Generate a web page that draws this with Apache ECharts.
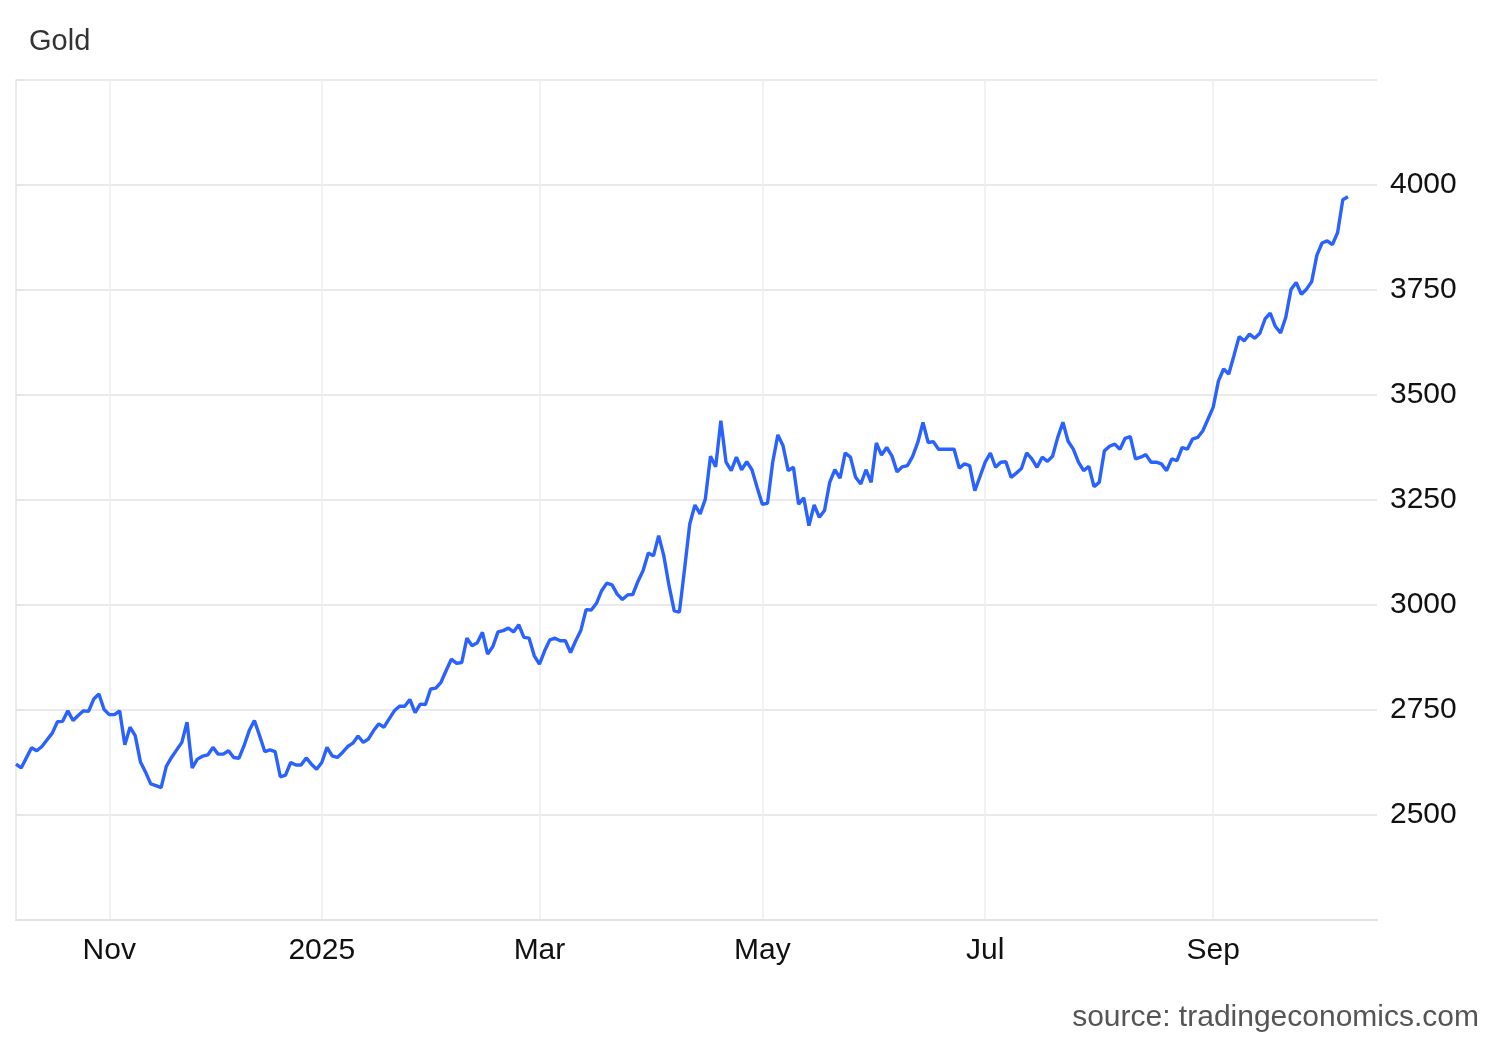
<!DOCTYPE html>
<html>
<head>
<meta charset="utf-8">
<script src="https://cdn.jsdelivr.net/npm/echarts@6/dist/echarts.min.js"></script>
<style>
html,body{margin:0;padding:0;background:#ffffff;}
#chart{width:1500px;height:1040px;}
</style>
</head>
<body>
<div id="chart"></div>
<script>
// ---- Data: Gold daily close ----
const oct2024 = [2621,2612,2636,2660,2653,2663,2679,2695,2722,2723,2748,2725,2737,2748,2747,2776,2788,2751];
const nov2024 = [2739,2739,2748,2667,2709,2689,2627,2602,2574,2570,2565,2616,2637,2655,2673,2721,2612,2633,2640,2643];
const dec2024 = [2661,2645,2645,2653,2637,2635,2665,2701,2725,2689,2651,2655,2651,2591,2595,2625,2619,2619,2636,2621,2609];
const jan2025 = [2625,2661,2641,2637,2649,2663,2671,2688,2673,2681,2701,2717,2709,2729,2748,2759,2759,2775,2744,2764,2763,2800];
const feb2025 = [2802,2816,2844,2871,2861,2863,2921,2903,2910,2935,2883,2901,2936,2939,2945,2936,2953,2923,2921,2879];
const mar2025 = [2859,2891,2917,2921,2915,2915,2887,2915,2940,2989,2988,3004,3034,3052,3048,3026,3013,3024,3025,3056,3082];
const apr2025 = [3124,3117,3165,3117,3046,2986,2983,3086,3193,3238,3217,3252,3354,3329,3439,3340,3320,3352,3322,3341,3322,3280];
const may2025 = [3240,3242,3340,3405,3379,3320,3328,3240,3255,3189,3238,3209,3225,3292,3322,3302,3362,3352,3304,3288,3322,3292];
const jun2025 = [3386,3357,3375,3355,3317,3329,3332,3354,3387,3435,3387,3389,3371,3371,3371,3371,3326,3336,3332,3272,3306];
const jul2025 = [3340,3362,3328,3340,3341,3304,3314,3325,3362,3348,3328,3352,3342,3354,3399,3435,3390,3371,3340,3320,3330,3282,3292];
const aug2025 = [3367,3378,3383,3371,3397,3401,3348,3352,3358,3340,3340,3336,3320,3348,3344,3375,3371,3395,3399,3415,3443];
const sep2025 = [3471,3533,3562,3550,3594,3639,3629,3645,3635,3647,3681,3695,3663,3648,3685,3751,3768,3740,3752,3770,3833,3862];
const oct2025 = [3867,3858,3887,3965,3972];

// trading calendar (weekdays without these dates)
const holidays = ['2024-11-28','2024-12-25','2025-01-01'];
const monthBlocks = [
  [2024,10,8,31,oct2024],[2024,11,1,30,nov2024],[2024,12,1,31,dec2024],
  [2025,1,1,31,jan2025],[2025,2,1,28,feb2025],[2025,3,1,31,mar2025],
  [2025,4,1,30,apr2025],[2025,5,1,31,may2025],[2025,6,1,30,jun2025],
  [2025,7,1,31,jul2025],[2025,8,1,31,aug2025],[2025,9,1,30,sep2025],
  [2025,10,1,7,oct2025]
];
const monthNames = ['Jan','Feb','Mar','Apr','May','Jun','Jul','Aug','Sep','Oct','Nov','Dec'];
const yTicks = [2500,2750,3000,3250,3500,3750,4000];

const dates = [];
const values = [];
monthBlocks.forEach(([y,m,from,to,vals]) => {
  const days = [];
  for (let d = from; d <= to; d++) {
    const dt = new Date(Date.UTC(y, m - 1, d));
    const wd = dt.getUTCDay();
    const iso = dt.toISOString().slice(0,10);
    if (wd === 0 || wd === 6 || holidays.includes(iso)) continue;
    days.push(dt);
  }
  if (days.length !== vals.length) console.warn('count mismatch', y, m, days.length, vals.length);
  const n = Math.min(days.length, vals.length);
  for (let i = 0; i < n; i++) { dates.push(days[i]); values.push(vals[i]); }
});

const seriesData = values.map((v, i) => [i, v]);
const labelIdx = [];
for (let i = 1; i < dates.length; i++) {
  const m = dates[i].getUTCMonth();
  if (m !== dates[i-1].getUTCMonth() && m % 2 === 0) labelIdx.push(i);
}

const FONT = 'Liberation Sans, Arial, sans-serif';
const chart = echarts.init(document.getElementById('chart'), null, {renderer: 'canvas'});
chart.setOption({
  animation: false,
  backgroundColor: '#ffffff',
  textStyle: {fontFamily: FONT},
  title: [
    {text: 'Gold', left: 24, top: 22,
     textStyle: {fontSize: 29, fontWeight: 'normal', color: '#333333', fontFamily: FONT}},
    {text: 'source: tradingeconomics.com', right: 16, top: 998,
     textStyle: {fontSize: 30, fontWeight: 'normal', color: '#555555', fontFamily: FONT}}
  ],
  grid: {left: 16, right: 123, top: 80, bottom: 120, containLabel: false},
  xAxis: {
    type: 'value', min: 0, max: 262.6,
    axisLine: {show: true, lineStyle: {color: '#e3e3e3', width: 2}},
    axisTick: {show: false, customValues: labelIdx},
    axisLabel: {
      customValues: labelIdx, fontSize: 30, color: '#111111', margin: 16,
      fontFamily: FONT,
      formatter: (v) => {
        const d = dates[Math.round(v)];
        if (!d) return '';
        return d.getUTCMonth() === 0 ? String(d.getUTCFullYear()) : monthNames[d.getUTCMonth()];
      }
    },
    splitLine: {show: true, lineStyle: {color: '#ebeef2', width: 1.5}}
  },
  yAxis: {
    type: 'value', position: 'right', min: 2250, max: 4250, interval: 250,
    axisLine: {show: true, lineStyle: {color: '#e3e3e3', width: 1.5}},
    axisTick: {show: true, length: 8, lineStyle: {color: '#e3e3e3', width: 1.5}},
    axisLabel: {
      fontSize: 30, color: '#111111', margin: 13,
      fontFamily: FONT,
      formatter: (v) => yTicks.includes(v) ? String(v) : ''
    },
    splitLine: {show: true, lineStyle: {color: '#e3e3e3', width: 1.5}}
  },
  series: [{
    type: 'line', data: seriesData, showSymbol: false, symbol: 'none',
    lineStyle: {color: '#2962ff', width: 3.4}, smooth: false
  }]
});
</script>
</body>
</html>
